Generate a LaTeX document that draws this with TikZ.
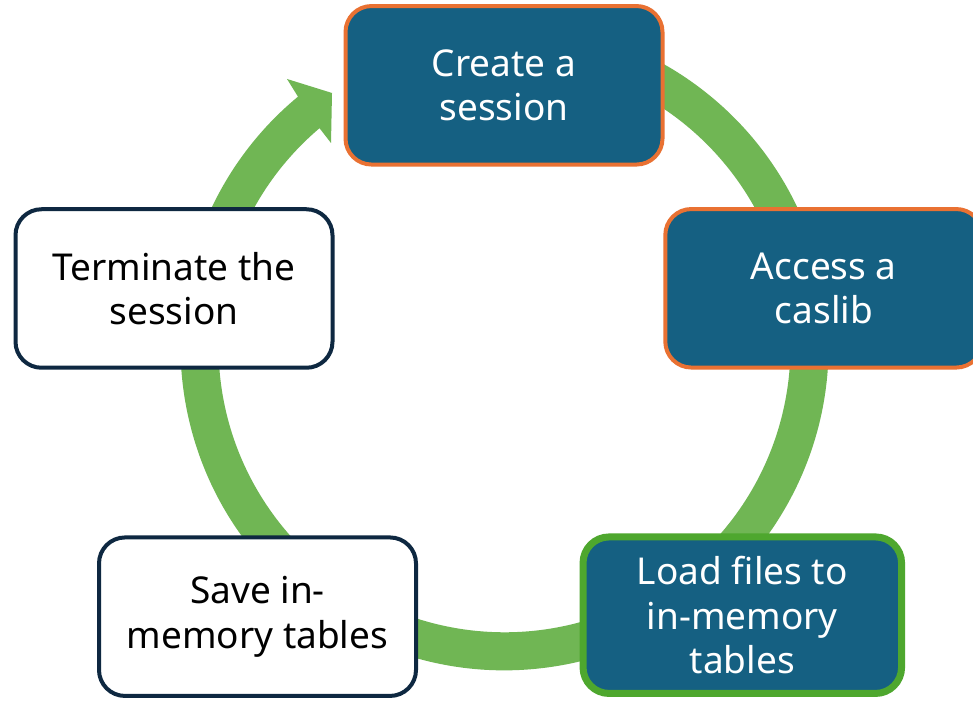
\documentclass[tikz,border=0pt]{standalone}
\usepackage{fontspec}
\setmainfont{Noto Sans}
\usetikzlibrary{calc}
\definecolor{cycblue}{HTML}{156082}
\definecolor{cycorange}{HTML}{E97132}
\definecolor{cycgreen}{HTML}{4EA72E}
\definecolor{ringgreen}{HTML}{70B654}
\definecolor{cycnavy}{HTML}{0E2841}
\begin{document}
\begin{tikzpicture}[x=1pt,y=1pt,
  box/.style={rounded corners=26pt, minimum width=317pt, minimum height=158.5pt,
    inner sep=0pt, align=center, font=\fontsize{37}{44.5}\selectfont, line width=4pt},
  darkbox/.style={box, fill=cycblue, draw=cycorange, text=white},
  greenbox/.style={box, fill=cycblue, draw=cycgreen, text=white, line width=7pt,
    minimum width=318.5pt, minimum height=156.5pt},
  lightbox/.style={box, fill=white, draw=cycnavy, text=black},
]
\useasboundingbox (0,0) rectangle (973,703);
\fill[white] (0,0) rectangle (973,703);

% circular arrow running clockwise behind the steps
\coordinate (ctr) at (504.5,356.7);
\fill[ringgreen]
  ($(ctr)+(130.3:286)$) arc[start angle=-229.7, end angle=100, radius=286]
  -- ($(ctr)+(100:324)$) arc[start angle=100, end angle=-230.4, radius=324]
  -- (287,624) -- (332,610) -- (331,560) -- cycle;

% the five steps
\node[darkbox]  (create) at (504,617.7)   {Create a\\session};
\node[darkbox]  (access) at (823.8,414.7) {Access a\\caslib};
\node[greenbox] (load)   at (742.3,87.8)  {Load files to\\in-memory\\tables};
\node[lightbox] (save)   at (257.5,86.3)  {Save in-\\memory tables};
\node[lightbox] (term)   at (174,414.5)   {Terminate the\\session};
\end{tikzpicture}
\end{document}
